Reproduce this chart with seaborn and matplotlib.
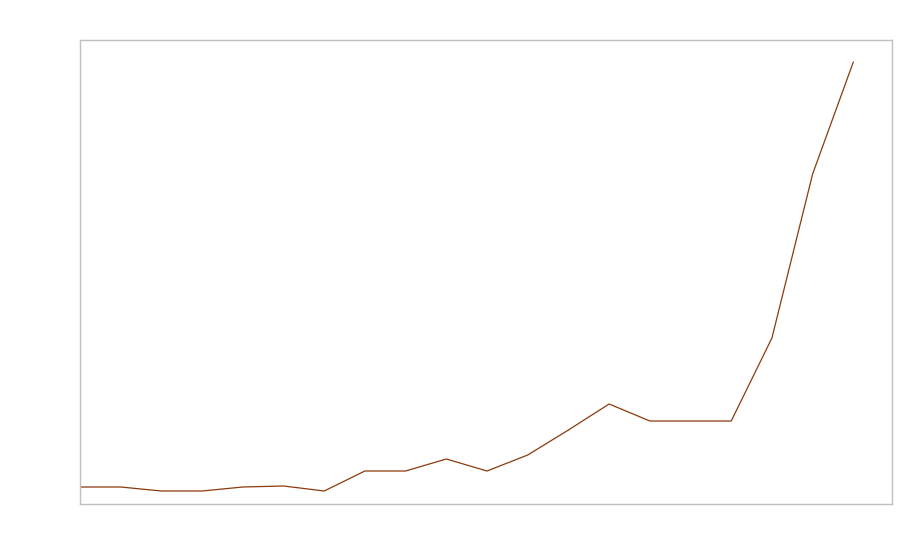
import matplotlib
matplotlib.use("Agg")
import matplotlib.pyplot as plt
import seaborn as sns
import pandas as pd

x_index = list(range(20))
values = [4.25, 4.25, 3.25, 3.25, 4.25, 4.5, 3.25, 8.25, 8.25, 11.25,
          8.25, 12.25, 18.5, 25.0, 20.75, 20.75, 20.75, 41.5, 82.5, 110.5]

df = pd.DataFrame({"x": x_index, "y": values})

sns.set_style("white")
fig = plt.figure(figsize=(9, 5.6), dpi=100)
ax = fig.add_axes([80/900, 1 - 504/560, 812/900, 464/560])
sns.lineplot(data=df, x="x", y="y", ax=ax, color="#8B3A0E", linewidth=0.9)
ax.set_xlim(0, 19.95)
ax.set_ylim(0, 116)
ax.set_xticks([])
ax.set_yticks([])
ax.set_xlabel("")
ax.set_ylabel("")
for s in ax.spines.values():
    s.set_color("#c0c0c0")
    s.set_linewidth(1.0)
fig.savefig("out.png", dpi=100)
